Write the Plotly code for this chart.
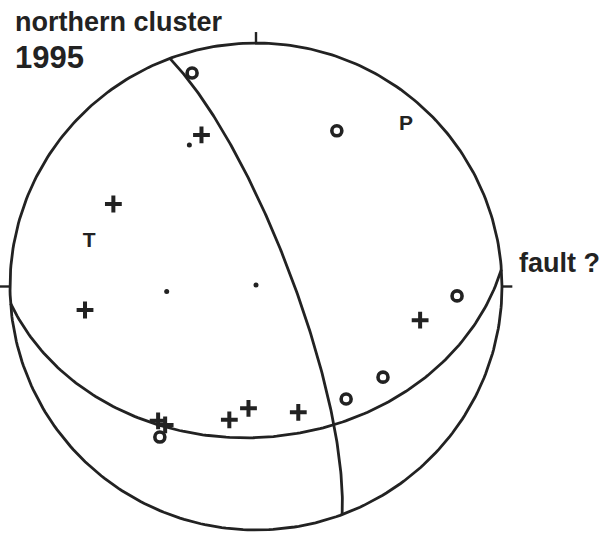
import numpy as np
import plotly.graph_objects as go

# Lower-hemisphere equal-area focal mechanism, northern cluster 1995

# Nodal planes (right-hand-rule strike, dip), degrees
plane_strike = [339.5, 86.0]
plane_dip = [78.0, 38.0]

# Dilatational first motions (open circles): trend / plunge, degrees
dil_trend = [343.5, 27.2, 92.7, 125.8, 141.6, 212.3]
dil_plunge = [9.4, 28.9, 19.3, 36.5, 40.7, 27.7]

# Compressional first motions (+)
comp_trend = [340.4, 300.3, 262.1, 101.7, 191.2, 183.5, 161.6, 215.8, 213.0]
comp_plunge = [34.3, 33.3, 30.5, 32.4, 43.5, 48.5, 44.7, 32.5, 32.7]

# Emergent / nodal readings (small dots)
dot_trend = [335.0, 266.7, 0.0]
dot_plunge = [36.1, 60.2, 89.5]

# Pressure and tension axes
axis_labels = ["P", "T"]
axis_trend = [42.6, 285.2]
axis_plunge = [10.9, 30.4]

INK = "#222222"
FONT = "Liberation Sans, Arial, sans-serif"


def project(trend, plunge):
    """Equal-area (Schmidt) projection of lines onto the lower hemisphere."""
    t = np.radians(np.asarray(trend, dtype=float))
    p = np.radians(np.asarray(plunge, dtype=float))
    r = np.sqrt(2.0) * np.sin((np.pi / 2 - p) / 2)
    return r * np.sin(t), r * np.cos(t)


def great_circle(strike, dip, n=181):
    s = np.radians(strike)
    d = np.radians(dip)
    dd = s + np.pi / 2
    a = np.linspace(0, np.pi, n)
    sv = np.array([np.sin(s), np.cos(s), 0.0])
    dv = np.array([np.cos(d) * np.sin(dd), np.cos(d) * np.cos(dd), -np.sin(d)])
    v = np.outer(np.cos(a), sv) + np.outer(np.sin(a), dv)
    trend = np.degrees(np.arctan2(v[:, 0], v[:, 1]))
    plunge = np.degrees(np.arcsin(np.clip(-v[:, 2], -1, 1)))
    return project(trend, plunge)


fig = go.Figure()

# primitive circle
th = np.linspace(0, 2 * np.pi, 361)
fig.add_trace(go.Scatter(x=np.cos(th), y=np.sin(th), mode="lines",
                         line=dict(color=INK, width=2.8), hoverinfo="skip"))

# N, E, W ticks
for tx, ty in [((0, 0), (1.0, 1.045)), ((1.0, 1.042), (0, 0)), ((-1.0, -1.042), (0, 0))]:
    fig.add_trace(go.Scatter(x=list(tx), y=list(ty), mode="lines",
                             line=dict(color=INK, width=2.4), hoverinfo="skip"))

# nodal planes
for s, d in zip(plane_strike, plane_dip):
    gx, gy = great_circle(s, d)
    fig.add_trace(go.Scatter(x=gx, y=gy, mode="lines",
                             line=dict(color=INK, width=2.8), hoverinfo="skip"))

# first motions
x, y = project(dil_trend, dil_plunge)
fig.add_trace(go.Scatter(x=x, y=y, mode="markers",
                         marker=dict(symbol="circle-open", size=10, color=INK,
                                     line=dict(width=3.6, color=INK))))
x, y = project(comp_trend, comp_plunge)
fig.add_trace(go.Scatter(x=x, y=y, mode="markers",
                         marker=dict(symbol="cross-thin", size=12, color=INK,
                                     line=dict(width=4, color=INK))))
x, y = project(dot_trend, dot_plunge)
fig.add_trace(go.Scatter(x=x, y=y, mode="markers",
                         marker=dict(symbol="circle", size=5, color=INK)))

# P / T axes
x, y = project(axis_trend, axis_plunge)
fig.add_trace(go.Scatter(x=x, y=y, mode="text", text=axis_labels,
                         textfont=dict(family=FONT, size=21, color=INK, weight="bold"),
                         textposition="middle center"))

W, H = 600, 533
fig.add_annotation(x=13 / W, y=1 - 22.5 / H, xref="paper", yref="paper",
                   text="<b>northern cluster</b>", showarrow=False,
                   xanchor="left", yanchor="middle",
                   font=dict(family=FONT, size=27, color=INK))
fig.add_annotation(x=13 / W, y=1 - 57 / H, xref="paper", yref="paper",
                   text="<b>1995</b>", showarrow=False,
                   xanchor="left", yanchor="middle",
                   font=dict(family=FONT, size=31, color=INK))
fig.add_annotation(x=517 / W, y=1 - 262.5 / H, xref="paper", yref="paper",
                   text="<b>fault ?</b>", showarrow=False,
                   xanchor="left", yanchor="middle",
                   font=dict(family=FONT, size=27, color=INK))

ux, uy = 246.0, 243.5
cx, cy = 256.0, 286.5
fig.update_layout(
    width=W, height=H,
    margin=dict(l=0, r=0, t=0, b=0),
    paper_bgcolor="white", plot_bgcolor="white",
    showlegend=False,
    xaxis=dict(range=[-cx / ux, (W - cx) / ux], visible=False, fixedrange=True),
    yaxis=dict(range=[(cy - H) / uy, cy / uy], visible=False, fixedrange=True),
)

fig.write_html("out.html")
